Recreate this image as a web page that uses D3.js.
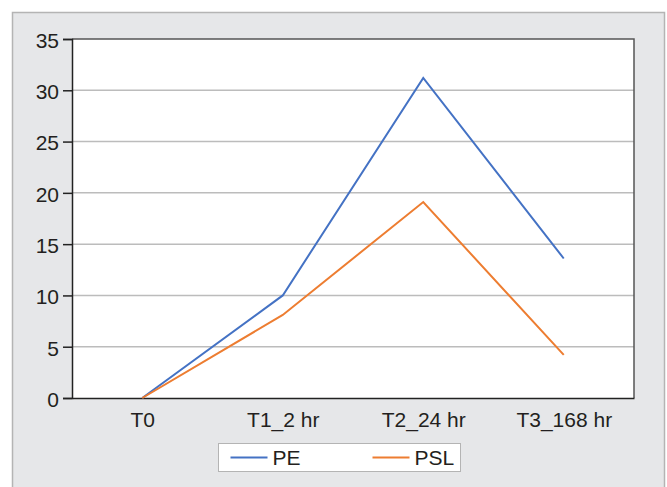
<!DOCTYPE html>
<html>
<head>
<meta charset="utf-8">
<script src="https://cdn.jsdelivr.net/npm/d3@7"></script>
<style>
  body { margin: 0; background: #fff; }
  svg { display: block; font-family: "Liberation Sans", Arial, sans-serif; }
</style>
</head>
<body>
<svg id="chart" width="667" height="487"></svg>
<script>
var categories = ["T0", "T1_2 hr", "T2_24 hr", "T3_168 hr"]
var pe = [0, 10, 31.2, 13.6]
var psl = [0, 8.1, 19.1, 4.2]
var yTicks = [0, 5, 10, 15, 20, 25, 30, 35]
var seriesNames = ["PE", "PSL"]
var seriesColors = ["#4472c4", "#ed7d31"]

var margin = { top: 39, right: 33, bottom: 89, left: 72 }
var width = 667 - margin.left - margin.right,
    height = 487 - margin.top - margin.bottom
var fontSize = 21

var root = d3.select('#chart')

// grey card behind everything
root.append("rect")
    .attr("x", 12.5).attr("y", 12.5)
    .attr("width", 652).attr("height", 490)
    .attr("fill", "#e6e7e9")
    .attr("stroke", "#b4b4b4")
    .attr("stroke-width", 1.5)

var svg = root.append("g")
    .attr("transform", "translate(" + margin.left + "," + margin.top + ")")

var x = d3.scalePoint()
    .domain(categories)
    .range([0, width])
    .padding(0.5)

var y = d3.scaleLinear()
    .domain([0, 35])
    .range([height, 0])

svg.append("rect")
    .attr("width", width).attr("height", height)
    .attr("fill", "#fff")

// gridlines
svg.append("g")
    .selectAll("line")
    .data(yTicks.filter(function (d) { return d > 0 && d < 35 }))
    .enter().append("line")
    .attr("x1", 0).attr("x2", width)
    .attr("y1", function (d) { return y(d) }).attr("y2", function (d) { return y(d) })
    .attr("stroke", "#bcbcbc")
    .attr("stroke-width", 1.5)

// frame top/right
svg.append("path")
    .attr("d", "M0,0H" + width + "V" + height)
    .attr("fill", "none")
    .attr("stroke", "#555")
    .attr("stroke-width", 1.5)

var yAxis = d3.axisLeft(y).tickValues(yTicks).tickSize(9).tickPadding(4)
var gy = svg.append("g").call(yAxis)
    .attr("font-size", fontSize)
    .attr("font-family", "Liberation Sans, Arial, sans-serif")
gy.select(".domain").attr("stroke", "#222").attr("stroke-width", 1.5)
gy.selectAll(".tick line").attr("stroke", "#222").attr("stroke-width", 1.5)
gy.selectAll("text").attr("fill", "#231f20").attr("dy", "0.4em")

var xAxis = d3.axisBottom(x).tickSize(0).tickPadding(14)
var gx = svg.append("g")
    .attr("transform", "translate(0," + height + ")")
    .call(xAxis)
    .attr("font-size", fontSize)
    .attr("font-family", "Liberation Sans, Arial, sans-serif")
gx.select(".domain").attr("stroke", "#222").attr("stroke-width", 1.5)
gx.selectAll("text").attr("fill", "#231f20")

var line = d3.line()
    .x(function (d, i) { return x(categories[i]) })
    .y(function (d) { return y(d) })

;[pe, psl].forEach(function (s, i) {
    svg.append("path")
        .datum(s)
        .attr("d", line)
        .attr("fill", "none")
        .attr("stroke", seriesColors[i])
        .attr("stroke-width", 2)
})

// legend
var lg = root.append("g").attr("transform", "translate(218.5,443.5)")
lg.append("rect")
    .attr("width", 242).attr("height", 28)
    .attr("fill", "#fff")
    .attr("stroke", "#b4b4b4")
    .attr("stroke-width", 1)
var items = lg.selectAll(".item")
    .data(seriesNames)
    .enter().append("g")
    .attr("transform", function (d, i) { return "translate(" + (12 + i * 142) + ",14)" })
items.append("line")
    .attr("x1", 0).attr("x2", 37)
    .attr("stroke", function (d, i) { return seriesColors[i] })
    .attr("stroke-width", 2)
items.append("text")
    .attr("x", 42).attr("dy", "0.35em")
    .attr("font-size", fontSize).attr("fill", "#231f20")
    .text(function (d) { return d })
</script>
</body>
</html>
